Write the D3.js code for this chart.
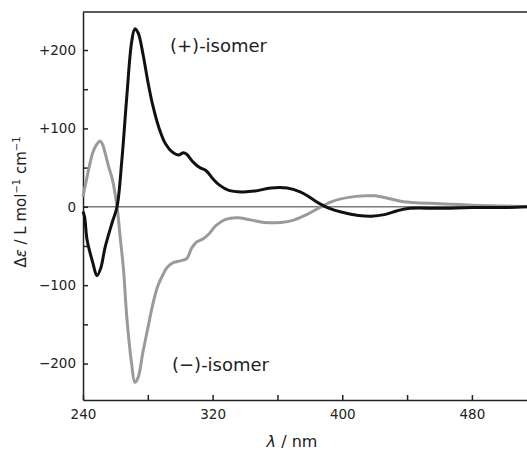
<!DOCTYPE html>
<html lang="en">
  <head>
    <meta charset="UTF-8" />
    <title>CD spectra of isomers</title>
    <script src="https://d3js.org/d3.v7.min.js"></script>
    <style>
      body {
        margin: 0;
        background: #fff;
      }
      svg {
        display: block;
        font-family: "DejaVu Sans", sans-serif;
      }
      .axis path,
      .axis line {
        stroke: #222;
        stroke-width: 1.5;
      }
      .axis text {
        font-family: "DejaVu Sans", sans-serif;
        font-size: 13.5px;
        fill: #222;
      }
    </style>
  </head>
  <body>
    <svg id="chart" width="527" height="450"></svg>

    <script>
      // (+)-isomer, black trace
      const plusNm = [
        240, 241, 242.5, 246, 248.6, 251, 253.6, 258, 261, 264, 267, 270, 272,
        274, 277, 280, 283, 287, 291, 295, 299, 302, 304, 308, 312, 316, 320,
        324, 330, 338, 346, 356, 366, 374, 380, 386, 392, 400, 410, 418, 426,
        434, 442, 460, 480, 500, 514,
      ];
      const plusVal = [
        -6, -13, -42, -71, -88, -78, -52, -20, 0, 60, 140, 210, 227, 222, 195,
        160, 130, 100, 80, 70, 66, 69, 67, 57, 50, 46, 36, 28, 21, 19, 20, 24,
        24, 19, 12, 4, -2, -7, -11, -12, -10, -5, -2, -2, -1, -1, 0,
      ];

      // (−)-isomer, grey trace
      const minusNm = [
        240, 242.5, 246, 248, 250.5, 252, 253.6, 256, 258, 261, 263, 265, 267,
        270, 272, 274, 277, 280, 283, 286, 289, 292, 296, 300, 304, 307, 310,
        314, 318, 322, 328, 336, 344, 352, 362, 370, 378, 386, 394, 404, 414,
        420, 428, 436, 446, 460, 480, 500, 514,
      ];
      const minusVal = [
        13, 38, 69, 78, 84, 80, 69, 50, 36, 0, -40, -80, -140, -200, -224, -218,
        -185, -155, -125, -102, -88, -77, -71, -69, -66, -53, -45, -41, -34, -24,
        -16, -14, -17, -20, -20, -17, -10, -1, 7, 12, 14, 14, 11, 7, 5, 4, 2, 1,
        0,
      ];

      const xMajor = [240, 320, 400, 480];
      const xMinor = [280, 360, 440];
      const yMajor = [-200, -100, 0, 100, 200];
      const yMinor = [-150, -50, 50, 150];

      const svg = d3.select("#chart");
      const mLeft = 83,
        mRight = 527,
        mTop = 12,
        mBottom = 400;

      const x = d3.scaleLinear().domain([240, 514]).range([mLeft, mRight]);
      const y = d3.scaleLinear().domain([-246.5, 248.5]).range([mBottom, mTop]);

      const fmtY = (d) => (d > 0 ? "+" + d : d < 0 ? "\u2212" + -d : "0");

      // zero line
      svg
        .append("line")
        .attr("x1", mLeft)
        .attr("x2", mRight)
        .attr("y1", y(0))
        .attr("y2", y(0))
        .attr("stroke", "#7a7a7a")
        .attr("stroke-width", 1.6);

      // top frame line
      svg
        .append("line")
        .attr("x1", mLeft)
        .attr("x2", mRight)
        .attr("y1", mTop)
        .attr("y2", mTop)
        .attr("stroke", "#222")
        .attr("stroke-width", 1.5);

      // axes with inward ticks
      svg
        .append("g")
        .attr("class", "axis")
        .attr("transform", `translate(${mLeft},0)`)
        .call(
          d3
            .axisLeft(y)
            .tickValues(yMajor)
            .tickFormat(fmtY)
            .tickSizeInner(-5)
            .tickSizeOuter(0)
            .tickPadding(7)
        );
      svg
        .append("g")
        .attr("class", "axis")
        .attr("transform", `translate(${mLeft},0)`)
        .call(
          d3
            .axisLeft(y)
            .tickValues(yMinor)
            .tickFormat("")
            .tickSizeInner(-5)
            .tickSizeOuter(0)
        )
        .select(".domain")
        .remove();

      svg
        .append("g")
        .attr("class", "axis")
        .attr("transform", `translate(0,${mBottom})`)
        .call(
          d3
            .axisBottom(x)
            .tickValues(xMajor)
            .tickFormat(d3.format("d"))
            .tickSizeInner(-5)
            .tickSizeOuter(0)
            .tickPadding(9)
        );
      svg
        .append("g")
        .attr("class", "axis")
        .attr("transform", `translate(0,${mBottom})`)
        .call(
          d3
            .axisBottom(x)
            .tickValues(xMinor)
            .tickFormat("")
            .tickSizeInner(-5)
            .tickSizeOuter(0)
        )
        .select(".domain")
        .remove();

      // spectra
      const line = d3
        .line()
        .x((d) => x(d[0]))
        .y((d) => y(d[1]))
        .curve(d3.curveCatmullRom.alpha(0.5));

      svg
        .append("path")
        .datum(d3.zip(minusNm, minusVal))
        .attr("fill", "none")
        .attr("stroke", "#9a9a9a")
        .attr("stroke-width", 3)
        .attr("stroke-linejoin", "round")
        .attr("d", line);

      svg
        .append("path")
        .datum(d3.zip(plusNm, plusVal))
        .attr("fill", "none")
        .attr("stroke", "#111")
        .attr("stroke-width", 3)
        .attr("stroke-linejoin", "round")
        .attr("d", line);

      // isomer labels
      svg
        .append("text")
        .attr("x", 170)
        .attr("y", 52)
        .attr("font-size", 18)
        .attr("fill", "#222")
        .text("(+)-isomer");

      svg
        .append("text")
        .attr("x", 172)
        .attr("y", 371)
        .attr("font-size", 18)
        .attr("fill", "#222")
        .text("(\u2212)-isomer");

      // axis titles
      const xt = svg
        .append("text")
        .attr("x", 292)
        .attr("y", 447)
        .attr("text-anchor", "middle")
        .attr("font-size", 16)
        .attr("fill", "#222");
      xt.append("tspan").attr("font-style", "italic").text("\u03bb");
      xt.append("tspan").text(" / nm");

      const yt = svg
        .append("text")
        .attr("transform", "translate(26,202) rotate(-90)")
        .attr("text-anchor", "middle")
        .attr("font-size", 15)
        .attr("fill", "#222");
      yt.append("tspan").text("\u0394");
      yt.append("tspan").attr("font-style", "italic").text("\u03b5");
      yt.append("tspan").text(" / L mol");
      yt.append("tspan")
        .attr("font-size", 10)
        .attr("dy", -6)
        .text("\u22121");
      yt.append("tspan").attr("dy", 6).text(" cm");
      yt.append("tspan")
        .attr("font-size", 10)
        .attr("dy", -6)
        .text("\u22121");
    </script>
  </body>
</html>
